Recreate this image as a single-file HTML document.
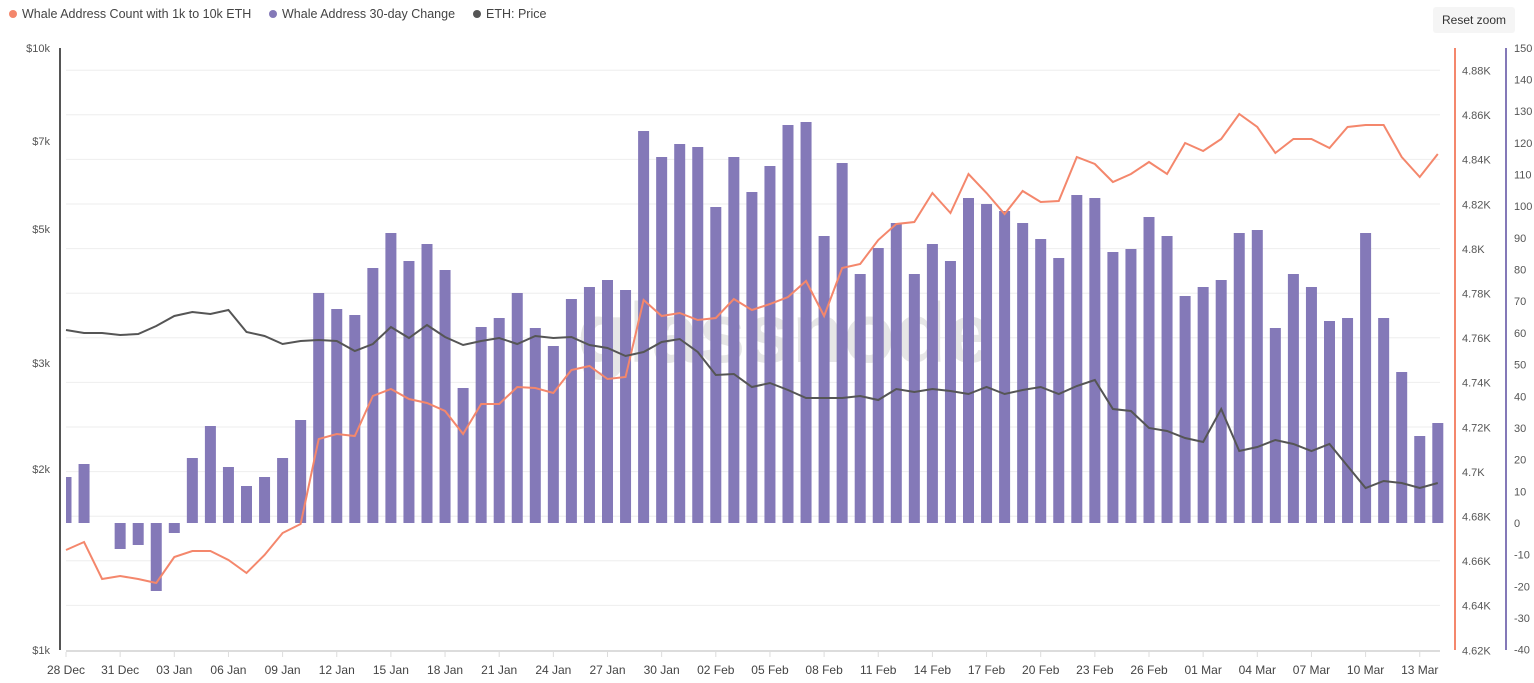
<!DOCTYPE html>
<html><head><meta charset="utf-8"><style>
body{margin:0;background:#fff;font-family:"Liberation Sans",sans-serif;}
svg{display:block}
</style></head><body>
<svg id="c" width="1534" height="683" xmlns="http://www.w3.org/2000/svg" font-family="Liberation Sans, sans-serif"></svg>
<script>
const s=document.getElementById('c');let h='';
const X=i=>66+i*18.05;
// gridlines
for(let k=1;k<=13;k++){const y=650-k*44.6;h+=`<line x1="66" x2="1440" y1="${y}" y2="${y}" stroke="#eeeeee" stroke-width="1"/>`;}
h+=`<text x="785" y="362" font-size="84" fill="#e6e6e6" text-anchor="middle" font-weight="bold">glassnode</text>`;
const bars=[477,464,523,549,545,591,533,458,426,467,486,477,458,420,293,309,315,268,233,261,244,270,388,327,318,293,328,346,299,287,280,290,131,157,144,147,207,157,192,166,125,122,236,163,274,248,223,274,244,261,198,204,211,223,239,258,195,198,252,249,217,236,296,287,280,233,230,328,274,287,321,318,233,318,372,436,423];
bars.forEach((t,i)=>{let x=X(i)-5.5,w=11;if(x<66){w-=66-x;x=66;}
const y1=Math.min(t,523),y2=Math.max(t,523);if(y2-y1>0)h+=`<rect x="${x}" y="${y1}" width="${w}" height="${y2-y1}" fill="#8479b8"/>`;});
const or=[550,542,579,576,579,583,557,551,551,560,573,555,533,524,439,434,436,396,389,399,403,411,434,404,404,387,388,393,370,366,379,377,300,316,313,320,318,299,310,304,297,281,316,268,264,240,224,222,193,213,174,193,214,191,202,201,157,164,182,174,162,174,143,151,139,114,127,153,139,139,148,127,125,125,157,177,154];
const dk=[330,333,333,335,334,326,316,312,314,310,332,336,344,341,340,341,351,344,327,338,325,337,345,341,338,344,336,338,337,345,348,356,352,342,339,352,375,374,387,383,390,398,398,398,396,400,389,392,389,391,394,387,394,390,387,394,386,380,409,411,428,431,438,442,409,451,447,440,444,451,444,466,488,481,483,488,483];
h+=`<polyline fill="none" stroke="#f4876c" stroke-width="2" points="${or.map((y,i)=>X(i)+','+y).join(' ')}"/>`;
h+=`<polyline fill="none" stroke="#555" stroke-width="2" points="${dk.map((y,i)=>X(i)+','+y).join(' ')}"/>`;
// axes
h+=`<line x1="60" x2="60" y1="48" y2="650" stroke="#555" stroke-width="2"/>`;
h+=`<line x1="66" x2="1440" y1="651" y2="651" stroke="#dcdcdc" stroke-width="2"/>`;
h+=`<line x1="1455" x2="1455" y1="48" y2="650" stroke="#f4876c" stroke-width="2"/>`;
h+=`<line x1="1506" x2="1506" y1="48" y2="650" stroke="#8479b8" stroke-width="2"/>`;
[['$10k',48],['$7k',141],['$5k',229],['$3k',363],['$2k',469],['$1k',650]].forEach(([t,y])=>h+=`<text x="50" y="${y+4}" font-size="11" fill="#555" text-anchor="end">${t}</text>`);
const ol=['4.88K','4.86K','4.84K','4.82K','4.8K','4.78K','4.76K','4.74K','4.72K','4.7K','4.68K','4.66K','4.64K','4.62K'];
ol.forEach((t,k)=>{const y=70.5+k*44.6;h+=`<text x="1462" y="${y+4}" font-size="11" fill="#555">${t}</text>`;});
for(let v=150;v>=-40;v-=10){const y=523-v*3.168;h+=`<text x="1514" y="${y+4}" font-size="11" fill="#555">${v}</text>`;}
const months=[['Dec',28],['Jan',1]];
const labels=['28 Dec','31 Dec','03 Jan','06 Jan','09 Jan','12 Jan','15 Jan','18 Jan','21 Jan','24 Jan','27 Jan','30 Jan','02 Feb','05 Feb','08 Feb','11 Feb','14 Feb','17 Feb','20 Feb','23 Feb','26 Feb','01 Mar','04 Mar','07 Mar','10 Mar','13 Mar'];
labels.forEach((t,k)=>{const x=X(k*3);h+=`<line x1="${x}" x2="${x}" y1="652" y2="657" stroke="#dcdcdc"/><text x="${x}" y="674" font-size="12" fill="#444" text-anchor="middle">${t}</text>`;});
// legend
h+=`<circle cx="13" cy="14" r="4" fill="#f4876c"/><text x="22" y="18" font-size="12.5" fill="#444">Whale Address Count with 1k to 10k ETH</text>`;
h+=`<circle cx="273" cy="14" r="4" fill="#8479b8"/><text x="282" y="18" font-size="12.5" fill="#444">Whale Address 30-day Change</text>`;
h+=`<circle cx="477" cy="14" r="4" fill="#555"/><text x="486" y="18" font-size="12.5" fill="#444">ETH: Price</text>`;
h+=`<rect x="1433" y="7" width="82" height="26" rx="3" fill="#f5f5f5"/><text x="1474" y="24" font-size="12" fill="#333" text-anchor="middle">Reset zoom</text>`;
s.innerHTML=h;
</script>
</body></html>
